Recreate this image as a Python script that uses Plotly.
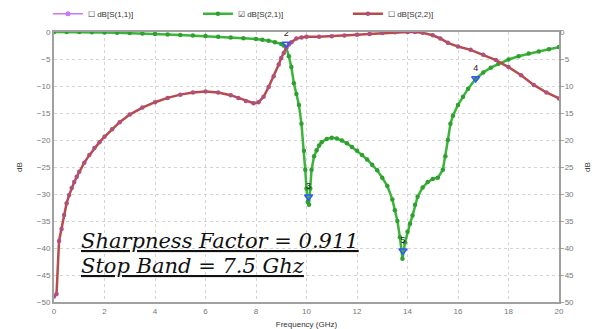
import plotly.graph_objects as go

# ---- data ----
s21_f = [0, 0.5, 1, 1.5, 2, 2.5, 3, 3.5, 4, 4.5, 5, 5.5, 6, 6.5, 7, 7.5, 8, 8.25, 8.5, 8.75,
         9.0, 9.1, 9.2, 9.3, 9.4, 9.5, 9.6, 9.7, 9.8, 9.9, 9.95, 10.0, 10.05, 10.1, 10.15, 10.2,
         10.3, 10.4, 10.5, 10.6, 10.8, 11.0, 11.2, 11.4, 11.6, 11.8, 12.0, 12.2, 12.4, 12.6,
         12.8, 13.0, 13.2, 13.4, 13.5, 13.6, 13.7, 13.8, 13.9, 14.0, 14.1, 14.2, 14.3, 14.4,
         14.6, 14.8, 15.0, 15.2, 15.4, 15.5, 15.6, 15.7, 15.8, 16.0, 16.2, 16.4, 16.7, 17.0,
         17.3, 17.6, 18.0, 18.4, 18.8, 19.2, 19.6, 20.0]
s21_db = [0, 0, 0, -0.05, -0.1, -0.15, -0.2, -0.3, -0.35, -0.45, -0.55, -0.65, -0.75, -0.9,
          -1.0, -1.15, -1.3, -1.45, -1.6, -1.9, -2.2, -2.5, -2.9, -4.5, -6.5, -9.5, -11.5,
          -13.5, -17, -22, -25.5, -29, -31.5, -32, -29, -25.5, -23, -21.9, -21, -20.4, -19.8,
          -19.6, -19.7, -20.1, -20.6, -21.3, -22, -22.8, -23.6, -24.6, -25.6, -27, -28.5, -31,
          -33, -35, -38, -42, -39, -37, -35.5, -34, -32, -30.5, -28.8, -27.8, -27.2, -27,
          -25.5, -23, -20, -17, -15.5, -13.5, -12, -10.5, -8.7, -7.5, -6.6, -5.9, -5.1, -4.5,
          -4.0, -3.6, -3.2, -2.8]

s22_f = [0, 0.1, 0.2, 0.3, 0.4, 0.5, 0.6, 0.7, 0.8, 0.9, 1.0, 1.2, 1.4, 1.6, 1.8, 2.0, 2.3,
         2.6, 3.0, 3.5, 4.0, 4.5, 5.0, 5.5, 6.0, 6.5, 7.0, 7.3, 7.6, 7.9, 8.1, 8.3, 8.5, 8.7,
         8.9, 9.0, 9.1, 9.2, 9.3, 9.4, 9.6, 9.8, 10.0, 10.5, 11.0, 11.5, 12.0, 12.5, 13.0,
         13.5, 14.0, 14.3, 14.6, 15.0, 15.3, 15.6, 16.0, 16.5, 17.0, 17.5, 18.0, 18.5, 19.0,
         19.5, 20.0]
s22_db = [-49, -48.5, -38.7, -36.5, -33.9, -31.7, -30.2, -28.9, -27.8, -26.8, -25.9, -24.2,
          -22.8, -21.5, -20.4, -19.4, -18, -16.7, -15.3, -14, -13, -12.2, -11.6, -11.2, -11.0,
          -11.2, -11.7, -12.2, -12.8, -13.2, -13.0, -12.0, -10.2, -8.2, -6.0, -4.8, -3.9,
          -2.9, -2.3, -1.9, -1.2, -1.0, -0.9, -0.9, -0.8, -0.65, -0.5, -0.35, -0.2, -0.05, 0,
          0, -0.15, -0.6, -1.2, -2.0, -2.7, -3.3, -4.2, -5.2, -6.5, -8.0, -9.8, -11.2, -12.3]

mk_f = [9.2, 10.08, 16.7, 13.82]
mk_db = [-2.2, -30.5, -8.6, -40.5]
mk_lbl = ["2", "3", "4", "5"]

x_ticks = [0, 2, 4, 6, 8, 10, 12, 14, 16, 18, 20]
y_ticks = [0, -5, -10, -15, -20, -25, -30, -35, -40, -45, -50]

fig = go.Figure()
fig.add_trace(go.Scatter(x=[None], y=[None], name="\u2610 dB[S(1,1)]", mode="lines+markers",
                         line=dict(color="#cc77ee", width=1.5), marker=dict(size=5, color="#cc77ee")))
fig.add_trace(go.Scatter(x=s21_f, y=s21_db, name="\u2611 dB[S(2,1)]", mode="lines+markers",
                         line=dict(color="#3cb43c", width=2.5),
                         marker=dict(size=4.5, color="#2ea02e")))
fig.add_trace(go.Scatter(x=s22_f, y=s22_db, name="\u2610 dB[S(2,2)]", mode="lines+markers",
                         line=dict(color="#b84a4a", width=2.5),
                         marker=dict(size=4.5, color="#b0507a")))
fig.add_trace(go.Scatter(x=mk_f, y=mk_db, mode="markers+text", text=mk_lbl,
                         textposition="top center", showlegend=False,
                         textfont=dict(size=9, color="#222", family="Liberation Sans"),
                         marker=dict(symbol="triangle-down-open", size=7, color="#3355ff",
                                     line=dict(width=1.5))))

tickfont = dict(family="Liberation Sans", size=8, color="#777")
axtitle = dict(family="Liberation Sans", size=8, color="#333")

# page body has an 8px default margin, so the figure is sized/offset to compensate
fig.update_layout(
    width=592, height=321,
    margin=dict(l=46, r=41, t=24, b=27, autoexpand=False),
    paper_bgcolor="white", plot_bgcolor="white",
    showlegend=True,
    legend=dict(orientation="h", x=-0.012, y=1.068, xanchor="left", yanchor="middle",
                font=dict(family="Liberation Sans", size=8, color="#333"),
                entrywidth=105, entrywidthmode="pixels", itemwidth=30,
                bgcolor="rgba(0,0,0,0)"),
    xaxis=dict(range=[0, 20], tickvals=x_ticks, showline=True, mirror=True, linecolor="#a0a0a0",
               linewidth=2, showgrid=True, gridcolor="#d4d4d4", griddash="dot", zeroline=False,
               ticks="", tickfont=tickfont, automargin=False,
               title=dict(text="Frequency (GHz)", font=axtitle, standoff=8)),
    yaxis=dict(range=[-50, 0], tickvals=y_ticks, showline=True, mirror=True, linecolor="#a0a0a0",
               linewidth=2, showgrid=True, gridcolor="#d4d4d4", griddash="dot", zeroline=False,
               ticks="", tickfont=tickfont, automargin=False,
               title=dict(text="dB", font=axtitle, standoff=13)),
    yaxis2=dict(range=[-50, 0], tickvals=y_ticks, overlaying="y", side="right", showgrid=False,
                zeroline=False, showline=False, ticks="", tickfont=tickfont, automargin=False,
                title=dict(text="dB", font=axtitle, standoff=11)),
    annotations=[
        dict(xref="paper", yref="paper", x=0.05, y=0.225, xanchor="left", yanchor="middle",
             text="<i><u>Sharpness Factor = 0.911</u></i>", showarrow=False,
             font=dict(family="DejaVu Serif", size=21, color="#111")),
        dict(xref="paper", yref="paper", x=0.05, y=0.133, xanchor="left", yanchor="middle",
             text="<i><u>Stop Band = 7.5 Ghz</u></i>", showarrow=False,
             font=dict(family="DejaVu Serif", size=21, color="#111")),
    ],
)
fig.add_trace(go.Scatter(x=[None], y=[None], yaxis="y2", showlegend=False))

fig.write_html("out.html")
